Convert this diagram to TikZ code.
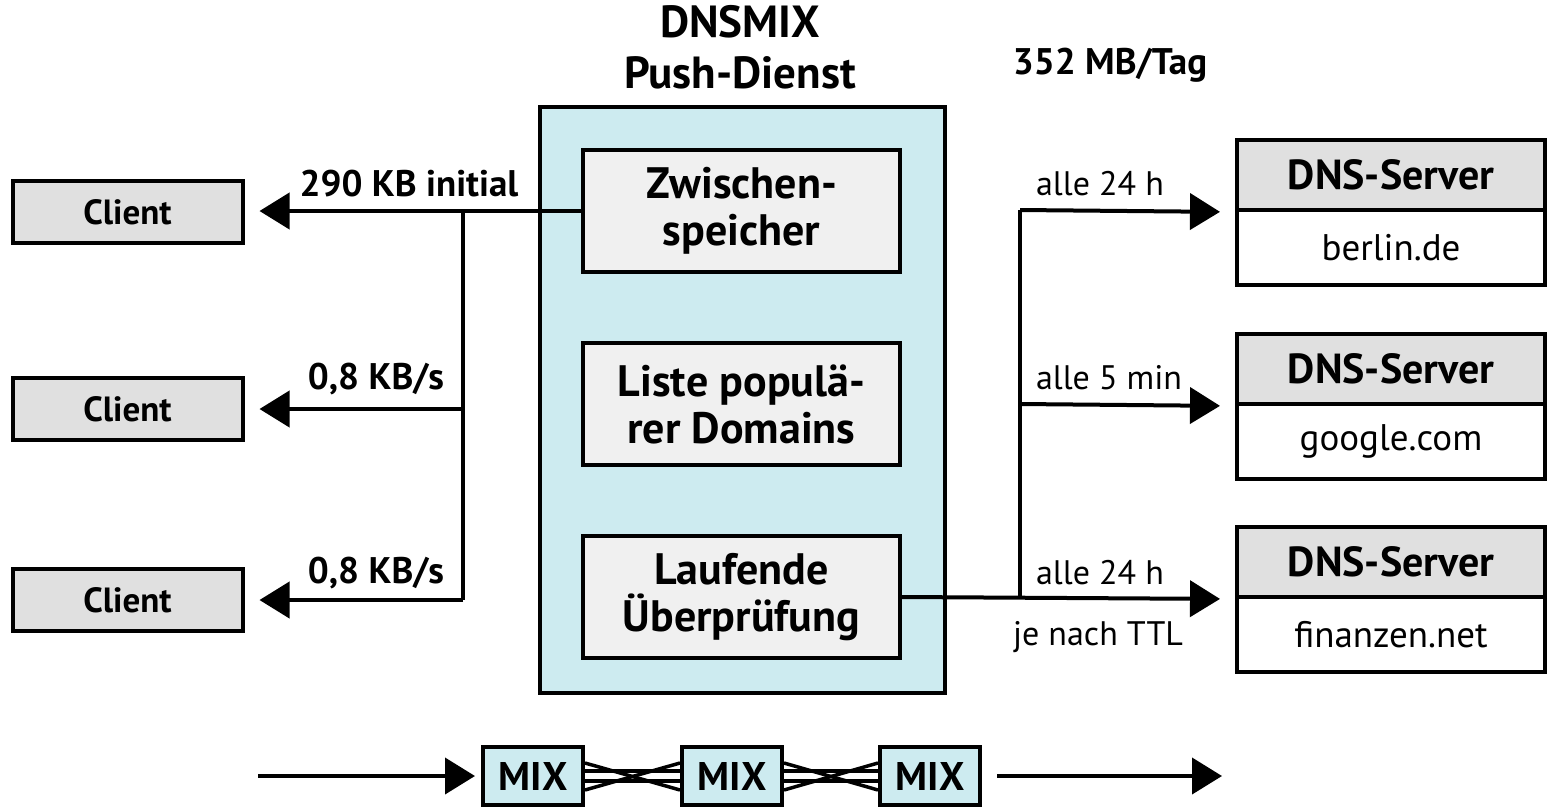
\documentclass[tikz,border=0pt]{standalone}
\usepackage{fontspec}
\setmainfont{PT Sans}
\usetikzlibrary{arrows.meta}
\definecolor{pushblue}{HTML}{CDEBF0}
\definecolor{innergray}{HTML}{F0F0F0}
\definecolor{boxgray}{HTML}{E0E0E0}
\begin{document}
\begin{tikzpicture}[x=1pt,y=-1pt,line width=4pt,
  arr/.style={-{Triangle[length=30pt,width=36pt]}},
  bigbox/.style={draw,fill=pushblue,inner sep=0pt,minimum width=405pt,minimum height=586pt},
  innerbox/.style={draw,fill=innergray,inner sep=0pt,minimum width=317pt,minimum height=122pt,align=center,font=\bfseries\fontsize{44}{47}\selectfont},
  clientbox/.style={draw,fill=boxgray,inner sep=0pt,minimum width=230pt,minimum height=62pt,font=\bfseries\fontsize{35}{38}\selectfont},
  dnshead/.style={draw,fill=boxgray,inner sep=0pt,minimum width=308pt,minimum height=70pt,font=\bfseries\fontsize{42}{44}\selectfont},
  dnsbody/.style={draw,fill=white,inner sep=0pt,minimum width=308pt,minimum height=75pt,font=\fontsize{37}{40}\selectfont},
  mixbox/.style={draw,fill=pushblue,inner sep=0pt,minimum width=100pt,minimum height=58pt,font=\bfseries\fontsize{40}{42}\selectfont},
  title/.style={anchor=base,inner sep=0pt,font=\bfseries\fontsize{45}{48}\selectfont},
  blbl/.style={anchor=base,inner sep=0pt,font=\bfseries\fontsize{37}{40}\selectfont},
  rlbl/.style={anchor=base,inner sep=0pt,font=\fontsize{34}{38}\selectfont},
  mixline/.style={line width=3.5pt}
]
\useasboundingbox (0,0) rectangle (1562,806);

% titles
\node[title] (t1) at (740,37) {DNSMIX};
\node[title] (t2) at (740,88) {Push-Dienst};
\node[blbl] (rate) at (1110,74) {352 MB/Tag};

% push service
\node[bigbox] (push) at (742.5,400) {};
\node[innerbox] (cache) at (741.5,211) {Zwischen-\\speicher};
\node[innerbox] (list) at (741.5,404) {Liste populä-\\rer Domains};
\node[innerbox] (check) at (741.5,597) {Laufende\\Überprüfung};

% clients
\node[clientbox] (c1) at (127.5,212) {Client};
\node[clientbox] (c2) at (127.5,409) {Client};
\node[clientbox] (c3) at (127.5,600) {Client};

\coordinate (jl1) at (463,211);
\coordinate (jl2) at (463,409);
\coordinate (jl3) at (463,600);
\draw[arr,shorten >=15pt] (cache.west) -- (cache.west -| c1.east);
\draw (jl1) -- (jl3);
\draw[arr,shorten >=15pt] (jl2) -- (c2.east);
\draw[arr,shorten >=15pt] (jl3) -- (c3.east);

\node[blbl] (l1) at (409,196) {290 KB initial};
\node[blbl] (l2) at (376,389) {0,8 KB/s};
\node[blbl] (l3) at (376,583) {0,8 KB/s};

% DNS servers
\node[dnshead] (d1h) at (1391,175) {DNS-Server};
\node[dnsbody] (d1b) at (1391,247.5) {berlin.de};
\node[dnshead] (d2h) at (1391,369) {DNS-Server};
\node[dnsbody] (d2b) at (1391,441.5) {google.com};
\node[dnshead] (d3h) at (1391,562) {DNS-Server};
\node[dnsbody] (d3b) at (1391,634.5) {finanzen.net};

\coordinate (jr1) at (1020,210);
\coordinate (jr2) at (1020,404);
\coordinate (jr3) at (1020,597);
\draw[arr,shorten >=15pt] (check.east) -- (d3h.south west);
\draw (jr1) -- (jr3);
\draw[arr,shorten >=15pt] (jr1) -- (d1h.south west);
\draw[arr,shorten >=15pt] (jr2) -- (d2h.south west);

\node[rlbl] (r1) at (1100,195) {alle 24 h};
\node[rlbl] (r2) at (1109,389) {alle 5 min};
\node[rlbl] (r3) at (1100,584) {alle 24 h};
\node[rlbl] (r4) at (1098,645) {je nach TTL};

% mix cascade
\node[mixbox] (m1) at (533,776) {MIX};
\node[mixbox] (m2) at (732,776) {MIX};
\node[mixbox] (m3) at (930,776) {MIX};
\coordinate (inL) at (258,776);
\coordinate (outR) at (1222,776);
\draw[arr,shorten >=6pt] (inL) -- (m1.west);
\draw[arr,shorten <=15pt] (m3.east) -- (outR);
\foreach \a/\b in {m1/m2,m2/m3}{
  \draw[mixline] ([yshift=13pt]\a.east) -- ([yshift=-14pt]\b.west);
  \draw[mixline] ([yshift=-14pt]\a.east) -- ([yshift=13pt]\b.west);
  \draw[mixline] ([yshift=5pt]\a.east) -- ([yshift=5pt]\b.west);
  \draw[mixline] ([yshift=-5pt]\a.east) -- ([yshift=-5pt]\b.west);
}
\end{tikzpicture}
\end{document}
